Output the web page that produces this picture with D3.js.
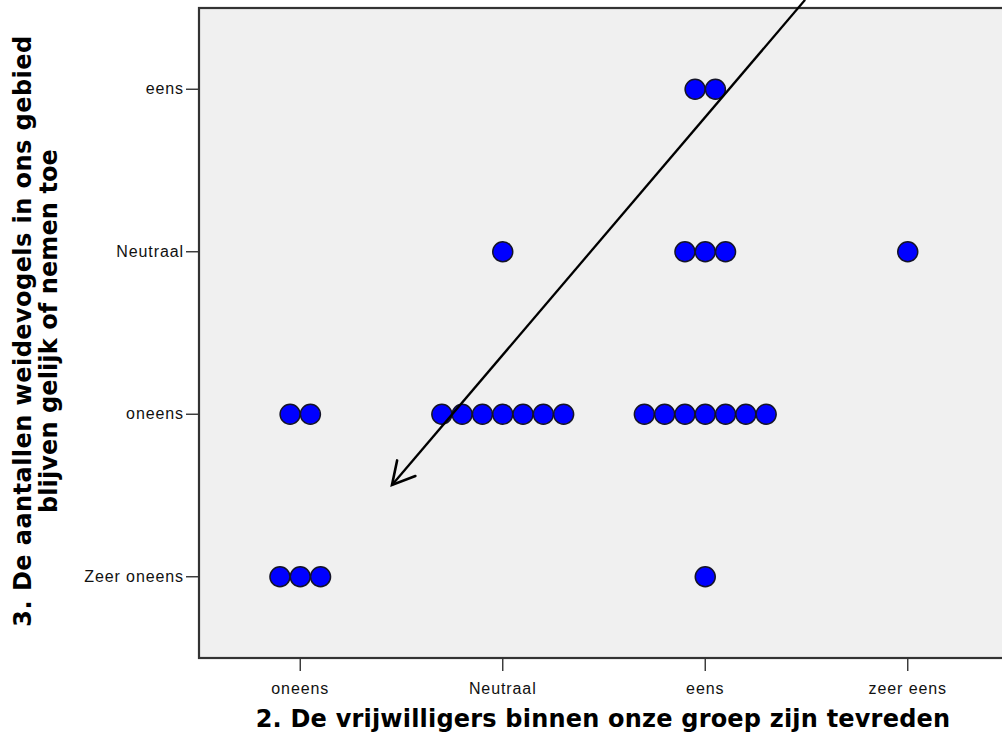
<!DOCTYPE html>
<html><head><meta charset="utf-8">
<script src="https://cdn.jsdelivr.net/npm/d3@7"></script>
<style>html,body{margin:0;padding:0;background:#fff;}svg{display:block;}</style>
</head><body>
<script>
const xCategories = ["oneens", "Neutraal", "eens", "zeer eens"];
const yCategories = ["Zeer oneens", "oneens", "Neutraal", "eens"];
// counts of respondents per (x category, y category) cell
const cellX = ["eens", "Neutraal", "eens", "zeer eens", "oneens", "Neutraal", "eens", "oneens", "eens"];
const cellY = ["eens", "Neutraal", "Neutraal", "Neutraal", "oneens", "oneens", "oneens", "Zeer oneens", "Zeer oneens"];
const cellCount = [2, 1, 3, 1, 2, 7, 7, 3, 1];
const xTitle = "2. De vrijwilligers binnen onze groep zijn tevreden";
const yTitleLines = ["3. De aantallen weidevogels in ons gebied", "blijven gelijk of nemen toe"];
// annotation arrow in category-index units (x: 0..3, y: 0..3)
const arrowFrom = [2.493, 3.55];
const arrowTo = [0.453, 0.565];

const W = 1002, H = 740;
const plot = {left: 199, top: 8, right: 1009, bottom: 658};
const svg = d3.select("body").append("svg").attr("width", W).attr("height", H);

const x = d3.scaleBand().domain(xCategories).range([plot.left, plot.right]);
const y = d3.scaleBand().domain(yCategories.slice().reverse()).range([plot.top, plot.bottom]);
const xi = d3.scaleLinear().domain([-0.5, 3.5]).range([plot.left, plot.right]);
const yi = d3.scaleLinear().domain([-0.5, 3.5]).range([plot.bottom, plot.top]);

svg.append("rect").attr("x", plot.left).attr("y", plot.top)
  .attr("width", plot.right - plot.left).attr("height", plot.bottom - plot.top)
  .attr("fill", "#f0f0f0").attr("stroke", "#333").attr("stroke-width", 2.2);

const xAxis = svg.append("g").attr("transform", `translate(0,${plot.bottom})`)
  .call(d3.axisBottom(x).tickSize(13).tickPadding(6));
const yAxis = svg.append("g").attr("transform", `translate(${plot.left},0)`)
  .call(d3.axisLeft(y).tickSize(13).tickPadding(2));
[xAxis, yAxis].forEach(g => {
  g.select(".domain").remove();
  g.selectAll(".tick line").attr("stroke", "#333").attr("stroke-width", 1.4);
  g.selectAll("text").attr("font-family", "Liberation Sans, Arial, sans-serif")
    .attr("font-size", 16).attr("letter-spacing", 0.9).attr("fill", "#111");
});
xAxis.selectAll("text").attr("dy", "1.05em");

// dots
const spacing = 20.3, r = 10;
const dots = [];
cellCount.forEach((n, i) => {
  for (let j = 0; j < n; j++) dots.push({x: cellX[i], y: cellY[i], off: (j - (n - 1) / 2) * spacing});
});
svg.append("g").selectAll("circle").data(dots).join("circle")
  .attr("cx", d => x(d.x) + x.bandwidth() / 2 + d.off)
  .attr("cy", d => y(d.y) + y.bandwidth() / 2)
  .attr("r", r).attr("fill", "#0000ff").attr("stroke", "#141428").attr("stroke-width", 1.5);

// arrow
svg.append("defs").append("marker").attr("id", "ah").attr("markerUnits", "userSpaceOnUse")
  .attr("viewBox", "-30 -16 34 32").attr("refX", 0).attr("refY", 0)
  .attr("markerWidth", 34).attr("markerHeight", 32).attr("orient", "auto")
  .append("path").attr("d", "M-22,-12 L0,0 L-22,12").attr("fill", "none")
  .attr("stroke", "#000").attr("stroke-width", 2.6).attr("stroke-linecap", "round");
svg.append("line")
  .attr("x1", xi(arrowFrom[0])).attr("y1", yi(arrowFrom[1]))
  .attr("x2", xi(arrowTo[0])).attr("y2", yi(arrowTo[1]))
  .attr("stroke", "#000").attr("stroke-width", 2.3).attr("marker-end", "url(#ah)");

// titles
svg.append("text").attr("x", 603).attr("y", 727).attr("text-anchor", "middle")
  .attr("font-family", "DejaVu Sans, sans-serif").attr("font-weight", "bold")
  .attr("font-size", 24).attr("letter-spacing", 0.2).attr("fill", "#000").text(xTitle);
const yt = svg.append("text").attr("transform", "translate(0,331) rotate(-90)")
  .attr("text-anchor", "middle").attr("font-family", "DejaVu Sans, sans-serif")
  .attr("font-weight", "bold").attr("font-size", 24).attr("fill", "#000");
yTitleLines.forEach((t, i) => yt.append("tspan").attr("x", 0).attr("y", 31 + i * 26)
  .attr("letter-spacing", i === 0 ? 0.45 : 0.1).text(t));
</script>
</body></html>
